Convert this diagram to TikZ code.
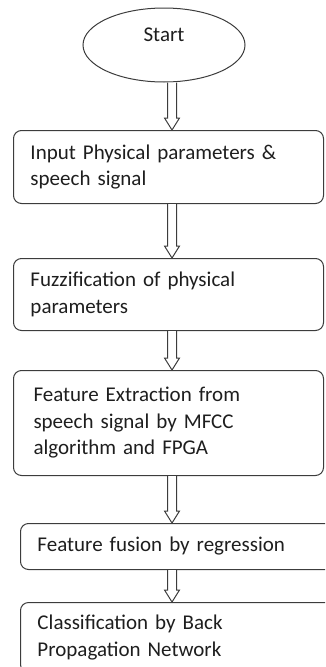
\documentclass[tikz,border=0pt]{standalone}
\usepackage{fontspec}
\setmainfont{Carlito}[WordSpace=0.5]
\usepackage{tikz}
\usetikzlibrary{arrows.meta, shapes, positioning, calc}
\definecolor{FC_LINE}{HTML}{3C3C3C}
\definecolor{FC_TEXT}{HTML}{1E1E1E}
\tikzset{
  %% -- flowchart start terminal --
  FC/term/.style={
    ellipse, draw=FC_LINE, line width=1pt,
    minimum width=162pt, minimum height=74pt, inner sep=0pt,
    font=\fontsize{21}{26.5}\selectfont, text=FC_TEXT, text depth=20pt
  },
  %% -- flowchart process box --
  FC/box/.style={
    draw=FC_LINE, line width=1pt, rounded corners=8pt,
    anchor=north west, align=left, inner ysep=0pt,
    font=\fontsize{21}{26.5}\selectfont, text=FC_TEXT
  },
  %% -- hollow block arrow --
  FC/arr/.style={
    draw=FC_LINE, fill=white, line width=1pt, line join=miter,
    to path={
      ($(\tikztostart)+(-4.5,0)$) -- ($(\tikztotarget)+(-4.5,-12)$)
      -- ($(\tikztotarget)+(-7.5,-12)$) -- (\tikztotarget)
      -- ($(\tikztotarget)+(7.5,-12)$) -- ($(\tikztotarget)+(4.5,-12)$)
      -- ($(\tikztostart)+(4.5,0)$)
    }
  },
}

\begin{document}
\begin{tikzpicture}[x=1pt, y=-1pt]
\useasboundingbox (0,0) rectangle (325,667);
\clip (0,0) rectangle (325,667);

%% Nodes
\node[FC/term] (st) at (164,45) {Start};
\node[FC/box, inner xsep=17pt, text width=276pt, minimum height=73pt]
  (inp) at (13,130) {Input Physical parameters \&\\speech signal};
\node[FC/box, inner xsep=17pt, text width=276pt, minimum height=72pt]
  (fuz) at (13,258) {Fuzzification of physical\\parameters};
\node[FC/box, inner xsep=20pt, text width=270pt, minimum height=105pt]
  (fex) at (13,370) {Feature Extraction from\\speech signal by MFCC\\algorithm and FPGA};
\node[FC/box, inner xsep=17pt, text width=300pt, minimum height=46pt]
  (fus) at (20,523) {Feature fusion by regression};
\node[FC/box, inner xsep=17pt, text width=300pt, minimum height=70pt]
  (cls) at (20,602) {Classification by Back\\Propagation Network};

%% Arrow axis
\coordinate (ax) at (172,0);

%% Flow
\draw[FC/arr] (st.south -| ax) to (inp.north -| ax);
\draw[FC/arr] (inp.south -| ax) to (fuz.north -| ax);
\draw[FC/arr] (fuz.south -| ax) to (fex.north -| ax);
\draw[FC/arr] (fex.south -| ax) to (fus.north -| ax);
\draw[FC/arr] (fus.south -| ax) to (cls.north -| ax);
\end{tikzpicture}
\end{document}
